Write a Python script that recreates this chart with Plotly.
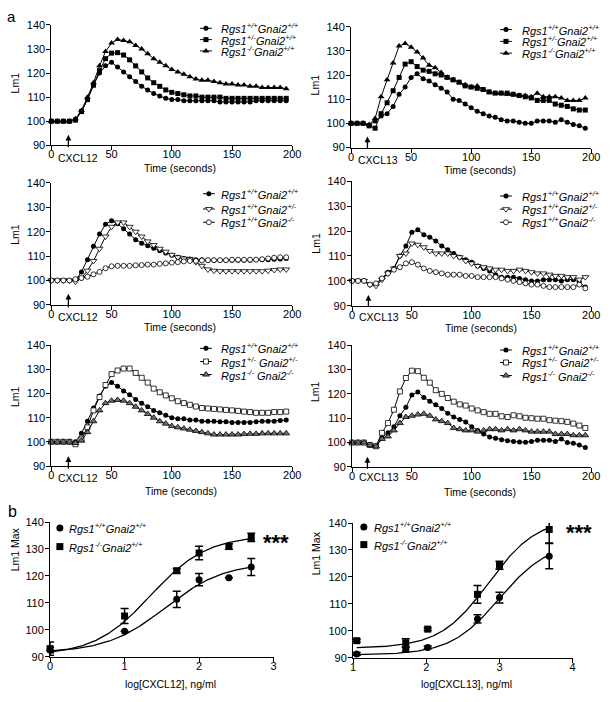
import numpy as np
import plotly.graph_objects as go

W, H = 615, 702
FONT = "Liberation Sans, Arial, Helvetica, sans-serif"

# ---------------- data: time courses (Lm1) ----------------
time_s = [0, 5, 10, 15, 20, 25, 30, 35, 40, 45, 50, 55, 60, 65, 70, 75, 80, 85, 90, 95,
          100, 105, 110, 115, 120, 125, 130, 135, 140, 145, 150, 155, 160, 165, 170, 175, 180, 185, 190, 195]

# panel 1: CXCL12, Rgs1 genotypes
p1_wt = [100, 100, 100, 100, 100.5, 104, 109, 115, 120, 123, 124.5, 122.5, 120.5, 118.5, 116.5, 114.5, 113, 111.5, 110.5, 109.5,
         109, 109, 108.5, 108.5, 108.5, 108.5, 108.5, 108.5, 108, 108, 108, 108, 108, 108, 108.5, 108.5, 108.5, 108.5, 108.5, 108.5]
p1_het = [100, 100, 100, 100, 100.5, 104, 109, 115, 121, 126, 128.3, 128.5, 127.5, 125.5, 123, 120.5, 118, 116, 114.5, 113,
          112, 111.5, 111, 110.5, 110.5, 110, 110, 110, 110, 109.5, 109.5, 109.5, 109.5, 109.5, 109.5, 109.5, 109.5, 109.5, 109.5, 109.5]
p1_ko = [100, 100, 100, 100, 101, 104.5, 110, 116, 123, 129, 132.5, 134, 133.5, 133, 131.5, 130, 128, 126, 124.5, 123,
         121.5, 120.5, 119.5, 118.5, 117.5, 117, 117, 116.5, 116, 115.5, 115.5, 115, 115, 114.5, 114.5, 114, 114, 114, 114, 113.5]

# panel 2: CXCL13, Rgs1 genotypes
p2_wt = [100, 100, 100, 99, 101, 103, 104, 107, 112, 115, 119, 120.5, 118.5, 117.5, 116, 114.5, 113, 110, 109.5, 108,
         106.5, 105, 104, 103, 102.5, 101.5, 101, 101, 100.5, 100, 100, 101, 101, 101, 100.5, 101.5, 100.5, 99.5, 99, 98]
p2_het = [100, 100, 100, 99, 98, 104, 108.5, 113.5, 119, 124.5, 125.5, 123.5, 122, 121.5, 120.5, 120, 119, 118, 117, 115.5,
          115, 114.5, 114, 113, 112.5, 112.5, 112.5, 112, 111.5, 111, 110.5, 109.5, 109.5, 109.5, 108, 107.5, 107, 106, 105.5, 105.5]
p2_ko = [100, 100, 100, 99.5, 102, 111, 118, 125, 132, 133, 131.5, 129.5, 127, 124, 123, 121, 119, 118, 117, 116,
         115, 115.5, 114, 113, 112.5, 112.5, 112, 112, 111.5, 111.5, 111, 112.5, 111, 111, 111, 110.5, 109.5, 109.5, 109.5, 110.5]

# panel 3: CXCL12, Gnai2 genotypes
p3_wt = [100, 100, 100, 100, 100, 103.5, 108.5, 114, 119, 123, 124.5, 123.2, 121.2, 119, 116.7, 115.3, 114.2, 113.2, 112.2, 111.2,
         110.3, 109.5, 109, 108.8, 108.5, 108.5, 108.3, 108.3, 108.3, 108.3, 108.3, 108.3, 108.3, 108.3, 108.5, 108.5, 108.5, 108.7, 108.8, 109]
p3_het = [100, 100, 100, 100, 99.5, 101, 104, 108, 113, 118, 122, 123.8, 123.8, 122, 120, 118, 116, 114.5, 113, 111.8,
          110.5, 109.5, 109, 108.8, 107.5, 106, 104.5, 104, 103.8, 103.8, 103.8, 103.8, 103.8, 103.8, 103.8, 103.8, 104, 104.3, 104.5, 104.5]
p3_ko = [100, 100, 100, 100, 100.5, 101, 101.5, 102.5, 103.5, 105, 105.8, 106, 106, 106, 106.2, 106.3, 106.5, 106.5, 106.8, 107,
         107.3, 107.5, 107.8, 108, 108, 108.2, 108.3, 108.3, 108.3, 108.3, 108.5, 108.5, 108.5, 108.5, 108.5, 108.7, 109, 109.3, 109.5, 109.5]

# panel 4: CXCL13, Gnai2 genotypes
p4_wt = [100, 100, 100, 98.5, 98.5, 101, 103.5, 105, 110, 114, 119.5, 120.5, 118.5, 117.5, 116, 114, 112.5, 111, 109.5, 108.5,
         107.5, 106, 105, 104, 102.5, 101.5, 101.5, 101.5, 101, 100.5, 100, 100, 100.5, 100.5, 100.5, 100, 100.5, 100.5, 99.5, 97.5]
p4_het = [100, 100, 100, 98.5, 98, 100.5, 103, 105, 110, 111, 115, 114.5, 113.5, 112, 111, 111, 111, 110, 109.5, 108,
          107, 106, 105.5, 105, 104.5, 104.5, 104, 104, 104.5, 104, 103.5, 103, 103, 102.5, 102, 102, 101.5, 101.5, 100.5, 101.5]
p4_ko = [100, 100, 100, 98.5, 99, 101, 103, 104.5, 105.5, 107, 107.5, 106.5, 105, 104, 103.5, 103, 102.5, 102.5, 102.5, 102,
         102, 101.5, 101.5, 101.5, 101.5, 101, 100.5, 100, 99.5, 99, 98.5, 98.5, 98, 97.5, 97.5, 97.5, 97.5, 97.5, 98.5, 97]

# panel 5: CXCL12, combined genotypes
p5_wt = [100, 100, 100, 100, 100, 103.5, 108.5, 114, 119, 123, 124.5, 123, 121, 119.5, 117.5, 116, 114.5, 113, 112, 111,
         110, 109.5, 109.5, 109, 109, 108.5, 108.5, 108.5, 108.3, 108.3, 108, 108, 108, 108, 108.3, 108.5, 108.5, 108.5, 108.8, 109]
p5_het = [100, 100, 100, 100, 99, 101, 106, 113, 118.5, 123.5, 128, 129.5, 130.3, 130.3, 128.5, 126.5, 124.5, 122, 120.5, 119.2,
          118, 116.8, 116, 115.3, 114.6, 114, 113.8, 113.6, 113.4, 113.2, 113, 112.8, 112.5, 112.3, 112, 112, 112, 112.3, 112.3, 112.5]
p5_ko = [100, 100, 100, 100, 99.5, 100.5, 104, 108.5, 113, 116, 117, 117.3, 117, 116, 114.5, 113, 111.5, 110, 108.5, 107.5,
         106.5, 106, 105.5, 105, 104.5, 104, 103.5, 103, 103, 103, 103, 103, 103.2, 103.3, 103.3, 103.5, 103.5, 103.5, 103.5, 103.5]

# panel 6: CXCL13, combined genotypes
p6_wt = [100, 100, 100, 99, 98.5, 102, 104, 106.5, 111, 114.5, 119.5, 120.8, 118.5, 117, 115.5, 114, 112, 110.5, 109.5, 108.5,
         106.5, 105, 103.5, 102.3, 101.8, 101.2, 100.8, 100.5, 100.2, 100.1, 100.5, 101, 101, 101, 100.5, 101.5, 100, 99.7, 99, 98]
p6_het = [100, 100, 100, 99, 98.5, 104, 108, 113.5, 121, 126.5, 129.5, 129.3, 126.6, 124.6, 121.5, 120, 118.3, 116.8, 115.7, 115.2,
          114, 113.2, 112.5, 111.8, 111.8, 110.8, 110.5, 111.2, 110.8, 110.2, 110, 109.8, 109.8, 109.2, 109, 108.8, 108.5, 107.8, 107, 106]
p6_ko = [100, 100, 100, 99, 98.5, 101.5, 102.5, 105, 108, 110.5, 111, 111.5, 111.8, 111, 109.5, 108.8, 108, 106, 105.5, 105,
         105, 104.5, 105, 105.5, 105.5, 105, 105.5, 105, 105.5, 105, 104.5, 104.5, 104.5, 104.5, 103.5, 103.5, 103.5, 103, 103, 103]

# ---------------- data: dose responses (Lm1 Max) ----------------
b1_x = [0, 1, 1.7, 2, 2.4, 2.7]
b1_wt_y = [92.5, 99.4, 111.3, 118.6, 119.3, 123.3]
b1_wt_err = [1.0, 0.0, 3.0, 2.3, 0.0, 3.2]
b1_ko_y = [93.0, 105.1, 121.9, 128.5, 130.9, 134.3]
b1_ko_err = [2.5, 2.8, 0.8, 2.5, 1.0, 1.5]

b2_x = [1.05, 1.72, 2.02, 2.7, 3.0, 3.68]
b2_wt_y = [91.4, 93.0, 93.8, 104.4, 112.3, 127.7]
b2_wt_err = [0.5, 0.8, 0.5, 1.5, 2.0, 4.7]
b2_ko_y = [96.3, 95.5, 100.6, 113.5, 124.3, 137.6]
b2_ko_err = [0.5, 1.5, 0.5, 3.3, 1.5, 5.0]

# fitted sigmoid (4-parameter logistic) parameters: bottom, top, logEC50, hill
b1_wt_fit = (91.5, 125.0, 1.55, 1.1)
b1_ko_fit = (90.5, 135.0, 1.35, 1.15)
b2_wt_fit = (91.0, 133.0, 3.0, 1.3)
b2_ko_fit = (93.5, 142.0, 2.85, 1.3)

time_ticks = [0, 50, 100, 150, 200]
lm_ticks = [90, 100, 110, 120, 130, 140]

# ---------------- layout geometry (pixel boxes of each plot area) ----------------
PANELS = [
    dict(px=(49.3, 295), py=(19.3, 141.7), xr=(0, 200), yr=(90, 140)),
    dict(px=(355, 600), py=(21, 144), xr=(0, 200), yr=(90, 140)),
    dict(px=(49.3, 295), py=(180, 304), xr=(0, 200), yr=(90, 140)),
    dict(px=(356, 600), py=(178.3, 305), xr=(0, 200), yr=(90, 140)),
    dict(px=(49.3, 295), py=(345, 468), xr=(0, 200), yr=(90, 140)),
    dict(px=(356, 600), py=(345, 469), xr=(0, 200), yr=(90, 140)),
    dict(px=(48, 276), py=(525, 662), xr=(0, 3), yr=(90, 140)),
    dict(px=(357, 581), py=(526, 663), xr=(1, 4), yr=(90, 140)),
]


def px2data(i, px, py):
    p = PANELS[i]
    (x0, x1), (y0, y1) = p["px"], p["py"]
    xr, yr = p["xr"], p["yr"]
    dx = xr[0] + (px - x0) / (x1 - x0) * (xr[1] - xr[0])
    dy = yr[1] - (py - y0) / (y1 - y0) * (yr[1] - yr[0])
    return dx, dy


def refs(i):
    n = "" if i == 0 else str(i + 1)
    return "x" + n, "y" + n


STY = {
    "fc": dict(symbol="circle", size=5, color="black", line=dict(color="black", width=0)),
    "fs": dict(symbol="square", size=5, color="black", line=dict(color="black", width=0)),
    "ft": dict(symbol="triangle-up", size=6, color="black", line=dict(color="black", width=0)),
    "ot": dict(symbol="triangle-down", size=6, color="white", line=dict(color="black", width=0.8)),
    "oc": dict(symbol="circle", size=5, color="white", line=dict(color="black", width=0.8)),
    "os": dict(symbol="square", size=5, color="white", line=dict(color="black", width=0.8)),
    "gt": dict(symbol="triangle-up", size=6, color="#6e6e6e", line=dict(color="black", width=0.8)),
}

fig = go.Figure()

SERIES = [
    (0, [(p1_wt, "fc"), (p1_het, "fs"), (p1_ko, "ft")]),
    (1, [(p2_wt, "fc"), (p2_het, "fs"), (p2_ko, "ft")]),
    (2, [(p3_wt, "fc"), (p3_het, "ot"), (p3_ko, "oc")]),
    (3, [(p4_wt, "fc"), (p4_het, "ot"), (p4_ko, "oc")]),
    (4, [(p5_wt, "fc"), (p5_het, "os"), (p5_ko, "gt")]),
    (5, [(p6_wt, "fc"), (p6_het, "os"), (p6_ko, "gt")]),
]
for i, lst in SERIES:
    xa, ya = refs(i)
    for y, st in lst:
        fig.add_trace(go.Scatter(x=time_s, y=y, mode="lines+markers", xaxis=xa, yaxis=ya,
                                 line=dict(color="black", width=1), marker=STY[st],
                                 showlegend=False, cliponaxis=False, hoverinfo="skip"))


def logistic(p, x):
    b, t, c, h = p
    return b + (t - b) / (1 + 10 ** ((c - x) * h))


for i, x, wy, we, ky, ke, wf, kf in [
    (6, b1_x, b1_wt_y, b1_wt_err, b1_ko_y, b1_ko_err, b1_wt_fit, b1_ko_fit),
    (7, b2_x, b2_wt_y, b2_wt_err, b2_ko_y, b2_ko_err, b2_wt_fit, b2_ko_fit),
]:
    xa, ya = refs(i)
    xs = np.linspace(min(x), max(x), 150)
    for fit in (wf, kf):
        fig.add_trace(go.Scatter(x=xs, y=logistic(fit, xs), mode="lines", xaxis=xa, yaxis=ya,
                                 line=dict(color="black", width=1.3), showlegend=False, hoverinfo="skip"))
    fig.add_trace(go.Scatter(x=x, y=wy, mode="markers", xaxis=xa, yaxis=ya,
                             error_y=dict(type="data", array=we, color="black", thickness=1.5, width=4),
                             marker=dict(symbol="circle", size=7, color="black"),
                             showlegend=False, cliponaxis=False, hoverinfo="skip"))
    fig.add_trace(go.Scatter(x=x, y=ky, mode="markers", xaxis=xa, yaxis=ya,
                             error_y=dict(type="data", array=ke, color="black", thickness=1.5, width=4),
                             marker=dict(symbol="square", size=7, color="black"),
                             showlegend=False, cliponaxis=False, hoverinfo="skip"))

# ---------------- legends (drawn manually to match compact spacing) ----------------
L = {
    "wtwt": "<i>Rgs1<sup>+/+</sup>Gnai2<sup>+/+</sup></i>",
    "hetwt": "<i>Rgs1<sup>+/-</sup>Gnai2<sup>+/+</sup></i>",
    "kowt": "<i>Rgs1<sup>-/-</sup>Gnai2<sup>+/+</sup></i>",
    "wthet": "<i>Rgs1<sup>+/+</sup>Gnai2<sup>+/-</sup></i>",
    "wtko": "<i>Rgs1<sup>+/+</sup>Gnai2<sup>-/-</sup></i>",
    "hethet": "<i>Rgs1<sup>+/-</sup> Gnai2<sup>+/-</sup></i>",
    "koko": "<i>Rgs1<sup>-/-</sup> Gnai2<sup>-/-</sup></i>",
}

LEGENDS = [
    (0, 207, 220, [22.7, 34.2, 45.7], [("wtwt", "fc"), ("hetwt", "fs"), ("kowt", "ft")], True),
    (1, 513, 527, [24, 36, 48], [("wtwt", "fc"), ("hetwt", "fs"), ("kowt", "ft")], True),
    (2, 210, 220, [191, 206.5, 220], [("wtwt", "fc"), ("wthet", "ot"), ("wtko", "oc")], True),
    (3, 513, 527, [193.3, 206.7, 220], [("wtwt", "fc"), ("wthet", "ot"), ("wtko", "oc")], True),
    (4, 207, 220, [348.3, 361.7, 375], [("wtwt", "fc"), ("hethet", "os"), ("koko", "gt")], True),
    (5, 513, 527, [350, 362.7, 376], [("wtwt", "fc"), ("hethet", "os"), ("koko", "gt")], True),
    (6, 58, 65, [531, 550], [("wtwt", "bc"), ("kowt", "bs")], False),
    (7, 368, 376, [530, 548], [("wtwt", "bc"), ("kowt", "bs")], False),
]
BIG = {"bc": dict(symbol="circle", size=7, color="black"), "bs": dict(symbol="square", size=7, color="black")}

for i, mx, tx, rows, entries, with_line in LEGENDS:
    xa, ya = refs(i)
    for ry, (key, st) in zip(rows, entries):
        if with_line:
            xl, yy = px2data(i, mx - 6, ry)
            xr_, _ = px2data(i, mx + 6, ry)
            xm, _ = px2data(i, mx, ry)
            fig.add_trace(go.Scatter(x=[xl, xr_], y=[yy, yy], mode="lines", xaxis=xa, yaxis=ya,
                                     line=dict(color="black", width=1), showlegend=False,
                                     cliponaxis=False, hoverinfo="skip"))
            fig.add_trace(go.Scatter(x=[xm], y=[yy], mode="markers", xaxis=xa, yaxis=ya,
                                     marker=STY[st], showlegend=False, cliponaxis=False, hoverinfo="skip"))
        else:
            xm, yy = px2data(i, mx, ry)
            fig.add_trace(go.Scatter(x=[xm], y=[yy], mode="markers", xaxis=xa, yaxis=ya,
                                     marker=BIG[st], showlegend=False, cliponaxis=False, hoverinfo="skip"))
        fig.add_annotation(x=tx / W, y=1 - ry / H, xref="paper", yref="paper", text=L[key],
                           showarrow=False, xanchor="left", yanchor="middle",
                           font=dict(size=11, family=FONT, color="black"))

# ---------------- axes ----------------
TICKFONT = dict(size=11, family=FONT, color="black")
for i, p in enumerate(PANELS):
    n = "" if i == 0 else str(i + 1)
    xa, ya = refs(i)
    dom_x = [p["px"][0] / W, p["px"][1] / W]
    dom_y = [1 - p["py"][1] / H, 1 - p["py"][0] / H]
    common = dict(showline=True, linecolor="black", linewidth=1, ticks="outside", ticklen=4,
                  tickwidth=1, tickcolor="black", showgrid=False, zeroline=False,
                  tickfont=TICKFONT, fixedrange=True)
    if i < 6:
        xt = dict(tickvals=time_ticks)
    elif i == 6:
        xt = dict(tickvals=[0, 1, 2, 3])
    else:
        xt = dict(tickvals=[1, 2, 3, 4])
    fig.update_layout(**{
        "xaxis" + n: dict(domain=dom_x, range=list(p["xr"]), anchor=ya, ticklabelstandoff=-5, **xt, **common),
        "yaxis" + n: dict(domain=dom_y, range=list(p["yr"]), anchor=xa, tickvals=lm_ticks,
                          ticklabelstandoff=-1, **common),
    })

# ---------------- titles & annotations ----------------
TFONT = dict(size=10.5, family=FONT, color="black")
YTITLES = [(12, 78, "Lm1"), (318, 80, "Lm1"), (12, 232, "Lm1"), (319, 241, "Lm1"),
           (12, 397, "Lm1"), (319, 392, "Lm1"), (12, 553, "Lm1 Max"), (320, 557, "Lm1 Max")]
XTITLES = [(181, 164.5, "Time (seconds)"), (487, 166.5, "Time (seconds)"), (181, 326.5, "Time (seconds)"),
           (488, 328, "Time (seconds)"), (182, 493, "Time (seconds)"), (487, 494, "Time (seconds)"),
           (171, 690, "log[CXCL12], ng/ml"), (473, 690, "log[CXCL13], ng/ml")]
for x, y, t in YTITLES:
    fig.add_annotation(x=x / W, y=1 - y / H, xref="paper", yref="paper", text=t, textangle=-90,
                       showarrow=False, xanchor="center", yanchor="middle", font=TFONT)
for x, y, t in XTITLES:
    fig.add_annotation(x=x / W, y=1 - y / H, xref="paper", yref="paper", text=t,
                       showarrow=False, xanchor="center", yanchor="middle", font=TFONT)

# chemokine addition arrows and labels
ARROWS = [(0, 66.7, 131, 145, 76, 155, "CXCL12"), (1, 371.7, 132.7, 145.7, 382, 156.7, "CXCL13"),
          (2, 66.7, 292.7, 308, 76, 316, "CXCL12"), (3, 372.7, 294, 306.7, 383, 316, "CXCL13"),
          (4, 66.7, 458, 472, 77, 480, "CXCL12"), (5, 371.7, 458.7, 472, 383, 479, "CXCL13")]
for i, ax_px, head, tail, lx, ly, txt in ARROWS:
    xa, ya = refs(i)
    hx, hy = px2data(i, ax_px, head)
    fig.add_annotation(x=hx, y=hy, xref=xa, yref=ya, ax=0, ay=tail - head, text="",
                       showarrow=True, arrowhead=2, arrowsize=0.9, arrowwidth=1.3, arrowcolor="black",
                       standoff=0, startstandoff=0)
    fig.add_annotation(x=lx / W, y=1 - ly / H, xref="paper", yref="paper", text=txt,
                       showarrow=False, xanchor="center", yanchor="middle", font=TFONT)

# significance stars
for i, sx, sy in [(6, 263, 542), (7, 572, 532)]:
    xa, ya = refs(i)
    dx, dy = px2data(i, sx, sy)
    fig.add_annotation(x=dx, y=dy, xref=xa, yref=ya, text="<b>***</b>", showarrow=False,
                       xanchor="left", yanchor="middle", yshift=-4,
                       font=dict(size=22, family=FONT, color="black"))

# panel letters
fig.add_annotation(x=2 / W, y=1 - 11 / H, xref="paper", yref="paper", text="a", showarrow=False,
                   xanchor="left", yanchor="middle", font=dict(size=15, family=FONT, color="black"))
fig.add_annotation(x=3 / W, y=1 - 514 / H, xref="paper", yref="paper", text="b", showarrow=False,
                   xanchor="left", yanchor="middle", font=dict(size=16, family=FONT, color="black"))

fig.update_layout(width=W, height=H, margin=dict(l=0, r=0, t=0, b=0), showlegend=False,
                  paper_bgcolor="white", plot_bgcolor="white", font=dict(family=FONT, color="black"))

fig.write_html("out.html", config={"displayModeBar": False},
               post_script="document.body.style.margin='0';document.body.style.padding='0';"
                           "document.documentElement.style.overflow='hidden';")
